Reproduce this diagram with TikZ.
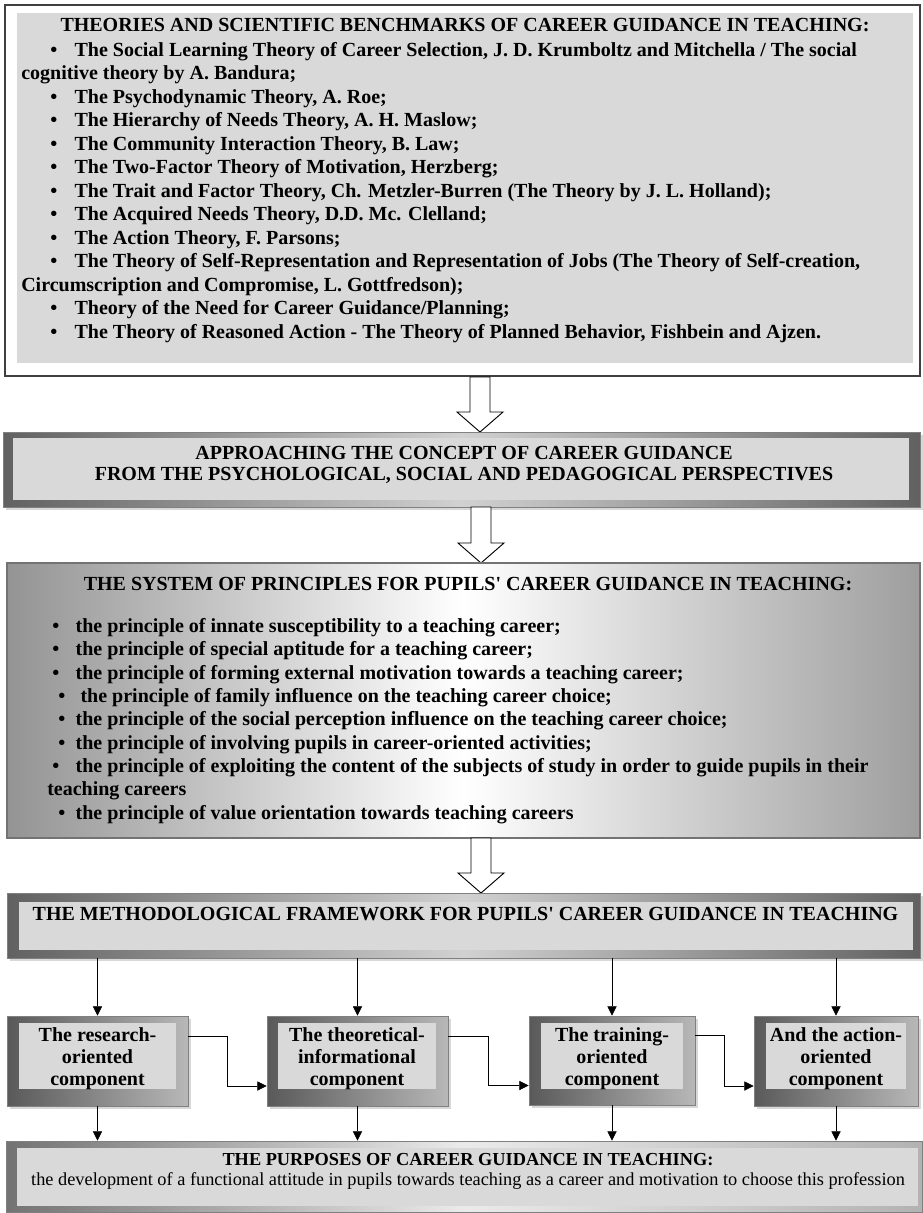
\documentclass[tikz,border=0pt]{standalone}
\usepackage{fontspec}
\setmainfont{Liberation Serif}
\usetikzlibrary{positioning, arrows.meta, fit, calc, shadows}

% bullet with leading indent and gap
\newcommand{\bul}[2]{\hspace*{#1}\textbullet\hspace{#2}}

\begin{document}
\begin{tikzpicture}[
    x=0.75pt, y=-0.75pt,
    boxfont/.style={font=\fontsize{15}{17.6}\selectfont\bfseries},
    plainframe/.style={
        draw=black!75,
        line width=1.2pt,
        fill=white,
        inner sep=0pt
    },
    greyinner/.style={
        fill=black!15,
        inner sep=0pt
    },
    bevelframe/.style={
        draw=black!50,
        line width=0.6pt,
        inner sep=0pt,
        left color=black!62,
        right color=black!62,
        middle color=black!18,
        drop shadow={shadow xshift=2pt, shadow yshift=-2pt, fill=black!30}
    },
    compframe/.style={
        draw=black!50,
        line width=0.6pt,
        inner sep=0pt,
        left color=black!65,
        right color=black!28,
        drop shadow={shadow xshift=2pt, shadow yshift=-2pt, fill=black!30}
    },
    fadeframe/.style={
        draw=black!50,
        line width=0.6pt,
        inner sep=0pt,
        left color=black!55,
        right color=black!30,
        middle color=black!8
    },
    principleframe/.style={
        draw=black!55,
        line width=0.8pt,
        inner sep=0pt,
        left color=black!42,
        right color=black!38,
        middle color=white
    },
    comptext/.style={
        font=\fontsize{15}{16.3}\selectfont\bfseries,
        align=center,
        inner sep=0pt,
        anchor=base
    },
    listtext/.style={
        boxfont,
        align=left,
        inner sep=0pt,
        anchor=base west
    },
    titletext/.style={
        boxfont,
        inner sep=0pt,
        anchor=base
    },
    smallarrow/.style={
        -{Triangle[length=7pt, width=7pt]},
        thin,
        draw=black
    },
    hollowdown/.pic={
        \draw[fill=white, line width=0.7pt]
            (-10,0) -- (-10,#1-20) -- (-23,#1-20) -- (0,#1)
            -- (23,#1-20) -- (10,#1-20) -- (10,0) -- cycle;
    }
]
\useasboundingbox (0,0) rectangle (922,1213);

% --- Theories (top) --------------------------------------------------------
\node[plainframe, fit={(5,5) (920,376)}] (theoryframe) {};
\node[greyinner, fit={(17,13) (913,363)}] (theorybox) {};

\node[titletext] (theorytitle) at (465,31.5)
    {THEORIES AND SCIENTIFIC BENCHMARKS OF CAREER GUIDANCE IN TEACHING:};
% anchored on the baseline of the last line
\node[listtext] (theorylist) at (21,338)
    {\bul{21.75pt}{13pt}The Social Learning Theory of Career Selection, J. D. Krumboltz and Mitchella / The social\\
     cognitive theory by A. Bandura;\\
     \bul{21.75pt}{13pt}The Psychodynamic Theory, A. Roe;\\
     \bul{21.75pt}{13pt}The Hierarchy of Needs Theory, A. H. Maslow;\\
     \bul{21.75pt}{13pt}The Community Interaction Theory, B. Law;\\
     \bul{21.75pt}{13pt}The Two-Factor Theory of Motivation, Herzberg;\\
     \bul{21.75pt}{13pt}The Trait and Factor Theory, Ch. Metzler-Burren (The Theory by J. L. Holland);\\
     \bul{21.75pt}{13pt}The Acquired Needs Theory, D.D. Mc. Clelland;\\
     \bul{21.75pt}{13pt}The Action Theory, F. Parsons;\\
     \bul{21.75pt}{13pt}The Theory of Self-Representation and Representation of Jobs (The Theory of Self-creation,\\
     Circumscription and Compromise, L. Gottfredson);\\
     \bul{21.75pt}{13pt}Theory of the Need for Career Guidance/Planning;\\
     \bul{21.75pt}{13pt}The Theory of Reasoned Action - The Theory of Planned Behavior, Fishbein and Ajzen.};

\pic at (480,377) {hollowdown=55};

% --- Approaching the concept -----------------------------------------------
\node[bevelframe, fit={(3,432) (920,507)}] (approachframe) {};
\node[greyinner, fit={(13,438) (909,500)}] (approachbox) {};
\node[titletext, align=center,
      font=\fontsize{15}{16}\selectfont\bfseries] (approachtext)
    at (464,480.5)
    {APPROACHING THE CONCEPT OF CAREER GUIDANCE\\
     FROM THE PSYCHOLOGICAL, SOCIAL AND PEDAGOGICAL PERSPECTIVES};

\pic at (481,507) {hollowdown=56};

% --- System of principles --------------------------------------------------
\node[principleframe, fit={(7,563) (920,838)}] (principlebox) {};
\node[titletext] (principletitle) at (468,590)
    {THE SYSTEM OF PRINCIPLES FOR PUPILS\textquotesingle{} CAREER GUIDANCE IN TEACHING:};
\node[listtext, font=\fontsize{15}{17.5}\selectfont\bfseries]
    (principlelist) at (47,819)
    {\bul{3.75pt}{12.3pt}the principle of innate susceptibility to a teaching career;\\
     \bul{3.75pt}{12.3pt}the principle of special aptitude for a teaching career;\\
     \bul{3.75pt}{12.3pt}the principle of forming external motivation towards a teaching career;\\
     \bul{8.25pt}{11.5pt}the principle of family influence on the teaching career choice;\\
     \bul{8.25pt}{7.8pt}the principle of the social perception influence on the teaching career choice;\\
     \bul{8.25pt}{7.8pt}the principle of involving pupils in career-oriented activities;\\
     \bul{3.75pt}{12.3pt}the principle of exploiting the content of the subjects of study in order to guide pupils in their\\
     teaching careers\\
     \bul{8.25pt}{7.8pt}the principle of value orientation towards teaching careers};

\pic at (481,838) {hollowdown=55};

% --- Methodological framework ----------------------------------------------
\node[bevelframe, fit={(7,893) (920,958)}] (methodframe) {};
\node[greyinner, fit={(19,902) (913,950)}] (methodbox) {};
\node[titletext] (methodtitle) at (465.5,920)
    {THE METHODOLOGICAL FRAMEWORK FOR PUPILS\textquotesingle{} CAREER GUIDANCE IN TEACHING};

% --- Components ------------------------------------------------------------
\node[compframe, fit={(7,1016) (188,1106)}]   (c1frame) {};
\node[greyinner, fit={(19,1023) (176,1089)}]  (c1box) {};
\node[comptext] (c1) at ($(c1box.south)+(0,-4)$) {The research-\\oriented\\component};

\node[compframe, fit={(267,1016) (448,1106)}]  (c2frame) {};
\node[greyinner, fit={(278,1023) (436,1089)}]  (c2box) {};
\node[comptext] (c2) at ($(c2box.south)+(0,-4)$) {The theoretical-\\informational\\component};

\node[compframe, fit={(529,1016) (695,1105)}]  (c3frame) {};
\node[greyinner, fit={(541,1023) (683,1089)}]  (c3box) {};
\node[comptext] (c3) at ($(c3box.south)+(0,-4)$) {The training-\\oriented\\component};

\node[compframe, fit={(754,1016) (918,1106)}]  (c4frame) {};
\node[greyinner, fit={(766,1023) (906,1089)}]  (c4box) {};
\node[comptext] (c4) at ($(c4box.south)+(0,-4)$) {And the action-\\oriented\\component};

% --- Purposes (bottom) -----------------------------------------------------
\node[fadeframe, fit={(6,1141) (922,1212)}]  (purposeframe) {};
\node[greyinner, fit={(17,1148) (918,1206)}] (purposebox) {};
\node[align=center, inner sep=0pt, anchor=base,
      font=\fontsize{13.75}{15}\selectfont] (purposetext)
    at (468,1185)
    {\textbf{THE PURPOSES OF CAREER GUIDANCE IN TEACHING:}\\
     the development of a functional attitude in pupils towards teaching as a career and motivation to choose this profession};

% --- Framework to components -----------------------------------------------
\foreach \c in {c1, c2, c3, c4} {
    \draw[smallarrow] (\c frame.north |- methodframe.south) -- (\c frame.north);
    \draw[smallarrow] (\c frame.south) -- (\c frame.south |- purposeframe.north);
}

% --- Component to component (elbows) ---------------------------------------
\draw[smallarrow] ($(c1frame.east)+(0,-25)$)
    -| ($(c1frame.east)!0.5!(c2frame.west)$) |- ($(c2frame.west)+(0,25)$);
\draw[smallarrow] ($(c2frame.east)+(0,-25)$)
    -| ($(c2frame.east)!0.5!(c3frame.west)$) |- ($(c3frame.west)+(0,25)$);
\draw[smallarrow] ($(c3frame.east)+(0,-25)$)
    -| ($(c3frame.east)!0.5!(c4frame.west)$) |- ($(c4frame.west)+(0,25)$);

\end{tikzpicture}
\end{document}
